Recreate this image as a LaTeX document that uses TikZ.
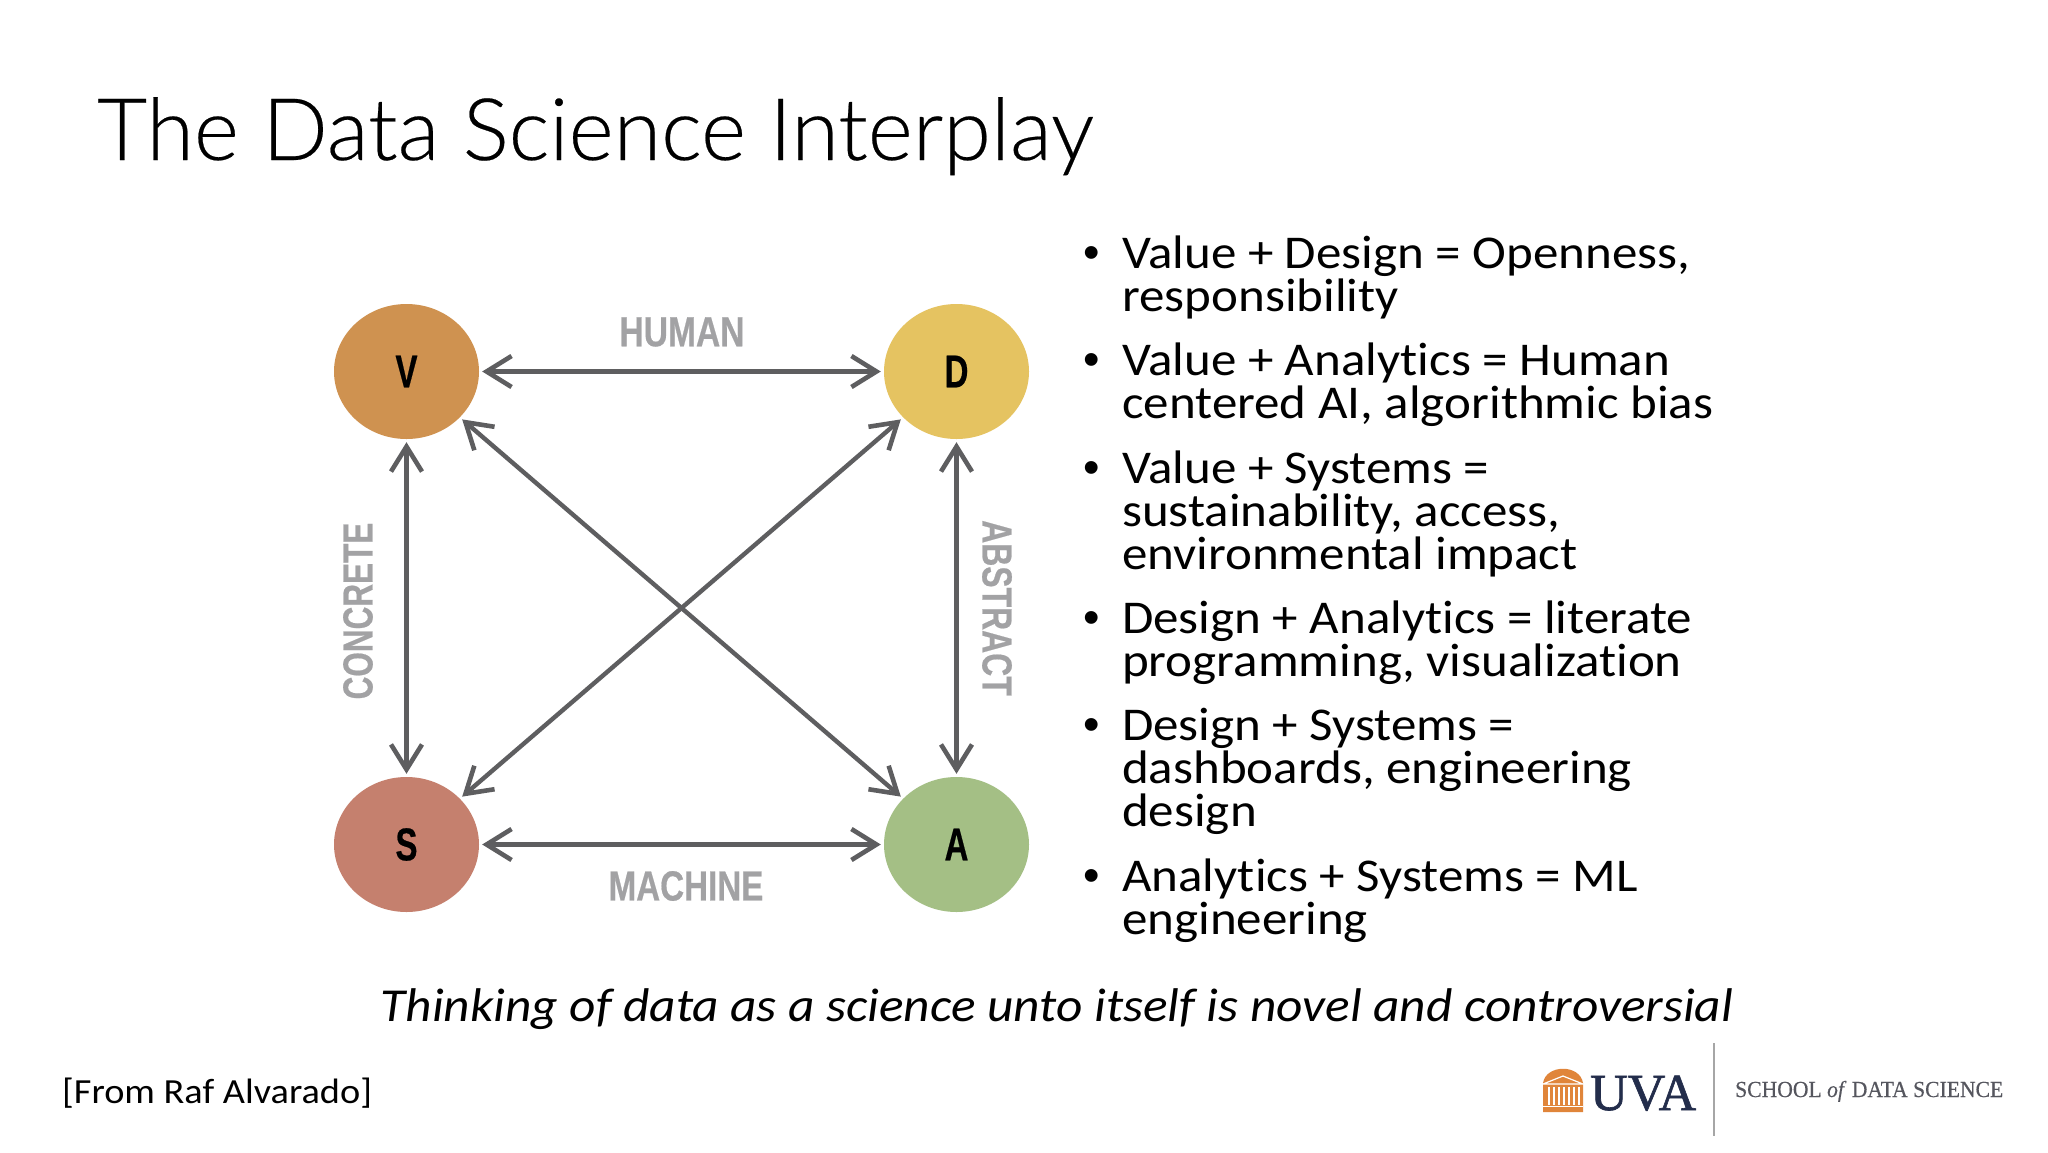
\documentclass[tikz,border=0pt]{standalone}
\usepackage{fontspec}
\usepackage{graphicx}
\setmainfont[Ligatures=CommonOff,FakeStretch=1.085]{Carlito}
\newfontfamily\titlefont[Ligatures=CommonOff,FakeBold=.25]{Lato Light}
\newfontfamily\labelfont[BoldFeatures={FakeBold=.6}]{Liberation Sans}
\newfontfamily\uvafont[FakeBold=1.2]{Liberation Serif}
\newfontfamily\schoolfont[FakeStretch=.94,FakeBold=.4]{Liberation Serif}
\usetikzlibrary{arrows.meta,shapes.geometric}
\definecolor{arrowgrey}{HTML}{5E5E60}
\definecolor{labelgrey}{HTML}{A2A2A4}
\definecolor{navy}{HTML}{232D4B}
\definecolor{uvaorange}{HTML}{E0853A}
\definecolor{schoolgrey}{HTML}{55565E}
\newcommand{\axislabel}[2]{\scalebox{#1}[1]{#2}}
\tikzset{
  x=1pt,y=-1pt,
  circ/.style={ellipse,minimum width=145pt,minimum height=135pt,inner sep=0pt,
    font=\labelfont\bfseries\fontsize{46}{46}\selectfont,text=black},
  link/.style={draw=arrowgrey,line width=4.4pt,
    {Straight Barb[length=25pt,width=31pt,line width=4.6pt]}-{Straight Barb[length=25pt,width=31pt,line width=4.6pt]},shorten >=3pt,shorten <=3pt},
  axis/.style={text=labelgrey,inner sep=0pt,font=\labelfont\bfseries\fontsize{42}{42}\selectfont},
  bullettext/.style={anchor=base west,inner sep=0pt,font=\fontsize{47}{47}\selectfont,text=black},
  dot/.style={anchor=base,inner sep=0pt,font=\labelfont\fontsize{47}{47}\selectfont,text=black},
}
\begin{document}
\begin{tikzpicture}
\useasboundingbox (0,0) rectangle (2048,1152);
\fill[white] (0,0) rectangle (2048,1152);
\node[anchor=base west,inner sep=0pt,font=\titlefont\fontsize{86.3}{86.3}\selectfont] (title) at (97,160) {The Data Science Interplay};

\node[circ,fill={rgb,255:red,207;green,146;blue,80}] (V) at (406.5,371.5) {\scalebox{.72}[1]{V}};
\node[circ,fill={rgb,255:red,229;green,195;blue,97}] (D) at (956.5,371.5) {\scalebox{.72}[1]{D}};
\node[circ,fill={rgb,255:red,197;green,128;blue,110}] (S) at (406.5,844.5) {\scalebox{.72}[1]{S}};
\node[circ,fill={rgb,255:red,164;green,191;blue,133}] (A) at (956.5,844.5) {\scalebox{.72}[1]{A}};

\draw[link] (V) -- (D);
\draw[link] (S) -- (A);
\draw[link] (V) -- (S);
\draw[link] (D) -- (A);
\draw[link] (V) -- (A);
\draw[link] (D) -- (S);

\node[axis] (human) at (682,332) {\axislabel{.8}{HUMAN}};
\node[axis] (machine) at (686,886) {\axislabel{.79}{MACHINE}};
\node[axis,rotate=90] (concrete) at (358,611) {\axislabel{.75}{CONCRETE}};
\node[axis,rotate=-90] (abstract) at (997,608) {\axislabel{.76}{ABSTRACT}};

\node[dot] (b1) at (1092,268) {•};
\node[dot] (b2) at (1092,375) {•};
\node[dot] (b3) at (1092,483) {•};
\node[dot] (b4) at (1092,633) {•};
\node[dot] (b5) at (1092,740) {•};
\node[dot] (b6) at (1092,891) {•};

\node[bullettext] (l1) at (1122,268) {Value + Design = Openness,};
\node[bullettext] (l2) at (1122,311) {responsibility};
\node[bullettext] (l3) at (1122,375) {Value + Analytics = Human};
\node[bullettext] (l4) at (1122,418) {centered AI, algorithmic bias};
\node[bullettext] (l5) at (1122,483) {Value + Systems =};
\node[bullettext] (l6) at (1122,526) {sustainability, access,};
\node[bullettext] (l7) at (1122,569) {environmental impact};
\node[bullettext] (l8) at (1122,633) {Design + Analytics = literate};
\node[bullettext] (l9) at (1122,676) {programming, visualization};
\node[bullettext] (l10) at (1122,740) {Design + Systems =};
\node[bullettext] (l11) at (1122,783) {dashboards, engineering};
\node[bullettext] (l12) at (1122,826) {design};
\node[bullettext] (l13) at (1122,891) {Analytics + Systems = ML};
\node[bullettext] (l14) at (1122,934) {engineering};

\node[anchor=base,inner sep=0pt,font=\itshape\fontsize{47.3}{47.3}\selectfont] (quote) at (1057,1021) {Thinking of data as a science unto itself is novel and controversial};
\node[anchor=base west,inner sep=0pt,font=\fontsize{35.3}{36}\selectfont] (credit) at (62,1103) {[From Raf Alvarado]};

% logo
\fill[uvaorange] (1543,1112) -- (1543,1083) .. controls (1546,1064) and (1580,1064) .. (1583,1083) -- (1583,1112) -- cycle;
\draw[white,line width=1.2pt] (1543,1084) -- (1563,1076) -- (1583,1084) -- cycle;
\foreach \px in {1549,1554,1559,1564,1569,1574,1579}
  \draw[white,line width=1.2pt] (\px,1087) -- (\px,1105);
\draw[white,line width=1.2pt] (1543,1106.5) -- (1583,1106.5);
\node[anchor=base west,inner sep=0pt,text=navy,font=\uvafont\fontsize{52}{52}\selectfont] (uva) at (1590,1110) {UVA};
\draw[draw=black!35,line width=1.5pt] (1714,1043) -- (1714,1136);
\node[anchor=base west,inner sep=0pt,text=schoolgrey,font=\schoolfont\fontsize{23}{23}\selectfont] (school) at (1735,1097) {SCHOOL \textit{of} DATA SCIENCE};
\end{tikzpicture}
\end{document}
